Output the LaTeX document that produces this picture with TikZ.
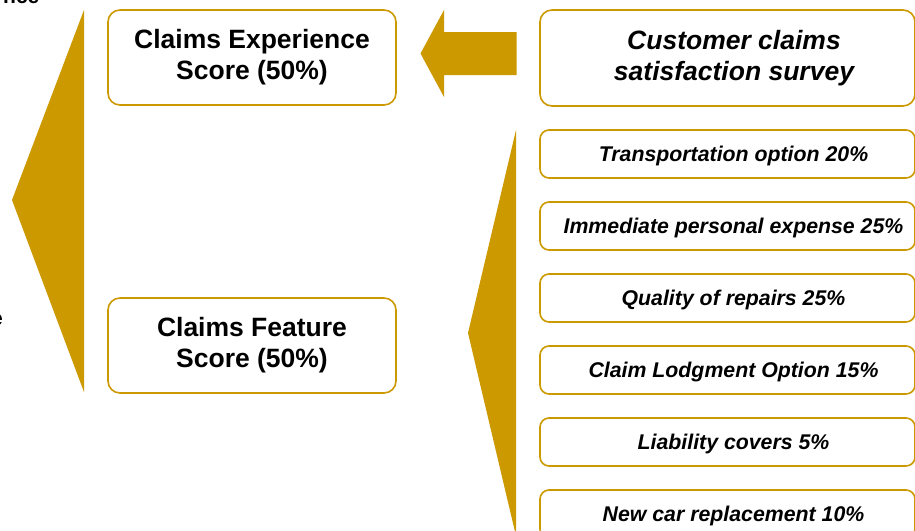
\documentclass[tikz,border=0pt]{standalone}
\usepackage{fontspec}
\setmainfont{Liberation Sans}
\definecolor{gold}{RGB}{204,153,0}
\tikzset{
  box/.style={draw=gold, line width=1.6pt, rounded corners=12pt, fill=white, align=center, inner sep=0pt},
  bigtext/.style={font=\fontsize{26.5}{31}\selectfont\bfseries},
  smalltext/.style={font=\fontsize{21.3}{24}\selectfont\bfseries\itshape, text depth=0pt, inner sep=0pt},
  goldfill/.style={fill=gold, draw=none}
}
\begin{document}
\begin{tikzpicture}[x=1pt, y=-1pt]
\useasboundingbox (0,0) rectangle (915,530);
\clip (0,0) rectangle (915,530);
% clipped fragments at the left edge
\node[anchor=base west, inner sep=0pt, font=\fontsize{21}{24}\selectfont\bfseries] (frag1) at (3,4) {nce};
\node[anchor=base east, inner sep=0pt, font=\fontsize{21}{24}\selectfont\bfseries] (frag2) at (3,325) {e};
% big left triangle
\fill[goldfill] (84,10) -- (12,200) -- (84,392) -- cycle;
% right triangle
\fill[goldfill] (516,130) -- (468,333) -- (516,536) -- cycle;
% left block arrow
\fill[goldfill] (420.5,53.5) -- (444,10) -- (444,32) -- (516.5,32) -- (516.5,75) -- (444,75) -- (444,97) -- cycle;
% main boxes
\node[box, bigtext, minimum width=288pt, minimum height=95pt] (exp) at (252,57.5) {Claims Experience\\Score (50\%)};
\node[box, bigtext, minimum width=288pt, minimum height=95pt] (feat) at (252,345.5) {Claims Feature\\Score (50\%)};
\node[box, minimum width=375pt, minimum height=96pt] (survey) at (727.5,58) {};
\node[bigtext, font=\fontsize{26.5}{31}\selectfont\bfseries\itshape, align=center, inner sep=0pt] (surveytext) at ([xshift=6.5pt]survey.center) {Customer claims\\satisfaction survey};
% feature boxes
\foreach \i/\t in {0/Transportation option 20\%, 1/Immediate personal expense 25\%, 2/Quality of repairs 25\%, 3/Claim Lodgment Option 15\%, 4/Liability covers 5\%, 5/New car replacement 10\%}{
  \node[box, rounded corners=9pt, minimum width=375pt, minimum height=48pt] (f\i) at (727.5,154+72*\i) {};
  \node[smalltext] (t\i) at ([xshift=6pt]f\i.center) {\t};
}
\end{tikzpicture}
\end{document}
